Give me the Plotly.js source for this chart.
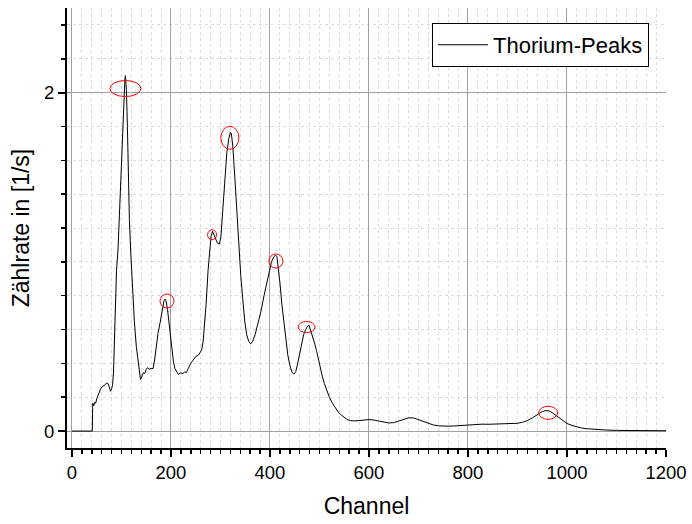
<!DOCTYPE html>
<html>
<head>
<meta charset="utf-8">
<script src="https://cdn.plot.ly/plotly-3.0.1.min.js"></script>
<style>html,body{margin:0;padding:0;background:#fff;}#chart{width:692px;height:524px;}</style>
</head>
<body>
<div id="chart"></div>
<script>
// Spectrum data
const channel = [0,10,20,30,41,42,44,46,48,50,54,58,62,66,70,73,76,78,80,82,84,86,88,90,93,96,99,102,105,107,108,110,112,114,116,118.5,122,126,130,133,136,138.5,141,144,147,150,153,156,160,164,167,170,174,178,182,186,188,190,193,196,199,202,205,208,212,215,220,224,228,231,235,240,245,250,256,262,265,268,271,275,278,281,284,287,290,294,298,301,305,309,313,317,320,322,325,329,333,337,341,345,349,353,357,361,365,370,376,382,388,393,398,403,408,411,414,417,420,424,428,432,436,440,444,448,452,456,460,464,468,472,476,479,482,486,490,494,498,502,506,510,515,520,526,532,538,544,550,556,562,570,580,590,600,610,620,630,640,650,660,670,680,690,700,710,720,730,740,750,760,770,780,790,800,810,820,830,840,850,860,870,880,890,900,910,920,930,940,950,958,965,972,980,990,1000,1010,1020,1030,1040,1050,1060,1070,1080,1100,1120,1140,1160,1180,1200];
const rate = [0,0,0,0,0,0.165,0.15,0.17,0.165,0.19,0.22,0.25,0.265,0.27,0.285,0.28,0.255,0.235,0.25,0.27,0.35,0.55,0.8,0.95,1.07,1.3,1.55,1.8,2.0,2.08,2.10,2.02,1.8,1.5,1.25,1.07,0.85,0.65,0.5,0.42,0.34,0.305,0.32,0.345,0.34,0.365,0.375,0.365,0.37,0.37,0.42,0.5,0.58,0.64,0.72,0.77,0.78,0.77,0.72,0.64,0.56,0.47,0.41,0.37,0.345,0.335,0.345,0.34,0.35,0.345,0.37,0.4,0.42,0.44,0.45,0.48,0.53,0.62,0.75,0.95,1.07,1.15,1.18,1.16,1.13,1.11,1.105,1.15,1.32,1.5,1.65,1.73,1.765,1.76,1.68,1.5,1.3,1.12,0.92,0.78,0.65,0.57,0.53,0.515,0.53,0.57,0.635,0.71,0.8,0.87,0.95,1.0,1.03,1.04,1.03,0.97,0.88,0.75,0.64,0.55,0.45,0.39,0.35,0.336,0.35,0.4,0.46,0.52,0.57,0.6,0.62,0.625,0.6,0.56,0.52,0.475,0.42,0.36,0.32,0.28,0.24,0.2,0.165,0.135,0.112,0.095,0.08,0.068,0.062,0.06,0.062,0.066,0.068,0.065,0.058,0.052,0.048,0.05,0.06,0.07,0.078,0.078,0.068,0.055,0.044,0.036,0.031,0.029,0.029,0.03,0.032,0.035,0.038,0.04,0.041,0.041,0.04,0.041,0.042,0.043,0.043,0.044,0.046,0.052,0.062,0.078,0.098,0.115,0.122,0.118,0.105,0.088,0.065,0.045,0.033,0.024,0.018,0.014,0.011,0.009,0.007,0.006,0.004,0.003,0.003,0.002,0.002,0.002];

// Marked peaks (ellipse centres)
const peakChannel = [108, 192, 283, 319, 412, 474, 962];
const peakRate = [2.024, 0.769, 1.16, 1.733, 1.005, 0.615, 0.108];
const peakW = [31, 14, 9, 18, 14, 17, 19];
const peakH = [16, 14, 10, 23, 14, 11, 13];

const seriesName = 'Thorium-Peaks';
const xTitle = 'Channel';
const yTitle = 'Zählrate in [1/s]';

const FONT = 'Liberation Sans, Arial, sans-serif';

const shapes = peakChannel.map((c, i) => ({
  type: 'circle', xref: 'x', yref: 'y',
  xsizemode: 'pixel', ysizemode: 'pixel',
  xanchor: c, yanchor: peakRate[i],
  x0: -peakW[i] / 2, x1: peakW[i] / 2,
  y0: -peakH[i] / 2, y1: peakH[i] / 2,
  line: {color: '#ff0000', width: 1}
}));

const trace = {
  x: channel, y: rate, type: 'scatter', mode: 'lines', name: seriesName,
  line: {color: '#000000', width: 1}
};

const layout = {
  width: 692, height: 524,
  margin: {l: 67, r: 26, t: 8, b: 76},
  paper_bgcolor: '#ffffff', plot_bgcolor: '#ffffff',
  font: {family: FONT, color: '#000'},
  showlegend: true,
  legend: {
    x: 0.9716, y: 0.966, xanchor: 'right', yanchor: 'top',
    bordercolor: '#000', borderwidth: 1, bgcolor: '#fff',
    font: {size: 22, family: FONT},
    itemwidth: 50
  },
  xaxis: {
    range: [-10, 1200], dtick: 200, tick0: 0,
    showline: true, linecolor: '#000', linewidth: 2,
    ticks: 'outside', ticklen: 7, tickwidth: 2, tickcolor: '#000',
    showgrid: true, gridcolor: '#a0a0a0', gridwidth: 1,
    zeroline: false,
    tickfont: {size: 18.5, family: FONT},
    title: {text: xTitle, font: {size: 23, family: FONT}, standoff: 16},
    minor: {dtick: 20, ticks: 'outside', ticklen: 4, tickwidth: 1.5, tickcolor: '#000',
            showgrid: true, gridcolor: '#dcdcdc', griddash: 'dot', gridwidth: 1}
  },
  yaxis: {
    range: [-0.1, 2.5], dtick: 2, tick0: 0,
    showline: true, linecolor: '#000', linewidth: 2,
    ticks: 'outside', ticklen: 7, tickwidth: 2, tickcolor: '#000',
    showgrid: true, gridcolor: '#a0a0a0', gridwidth: 1,
    zeroline: false,
    tickfont: {size: 18.5, family: FONT},
    title: {text: yTitle, font: {size: 23, family: FONT}, standoff: 8},
    minor: {dtick: 0.2, ticks: 'outside', ticklen: 4, tickwidth: 1.5, tickcolor: '#000',
            showgrid: true, gridcolor: '#dcdcdc', griddash: 'dot', gridwidth: 1}
  },
  shapes: shapes
};

Plotly.newPlot('chart', [trace], layout, {displayModeBar: false, staticPlot: true});
</script>
</body>
</html>
